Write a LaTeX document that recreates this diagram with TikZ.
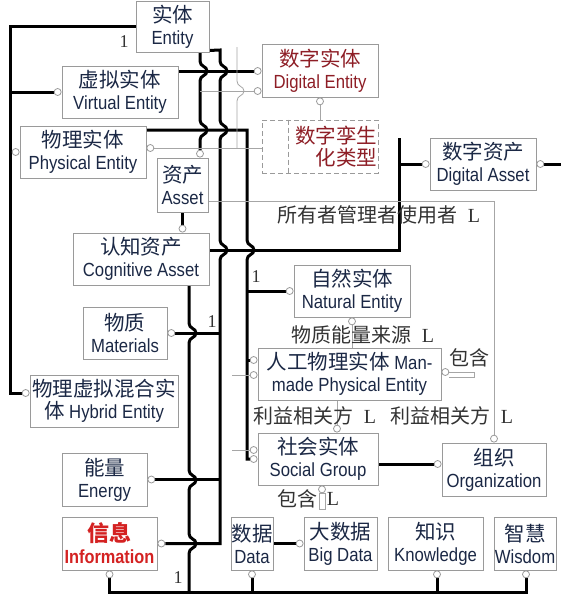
\documentclass[tikz,border=0pt]{standalone}
\usepackage{fontspec}
\setmainfont[FakeStretch=0.88]{Liberation Sans}
\newfontfamily\cjk{Noto Sans CJK SC}
\newfontfamily\serifL{Liberation Serif}
\newfontfamily\infofont[FakeStretch=0.86]{Liberation Sans}
\usetikzlibrary{positioning,calc}
\pgfdeclarelayer{paper}
\pgfdeclarelayer{wires}
\pgfsetlayers{paper,wires,main}
\definecolor{inkblue}{HTML}{1B2845}
\definecolor{boxgray}{HTML}{9A9A9A}
\definecolor{wiregray}{HTML}{A6A6A6}
\definecolor{digired}{HTML}{8E1E26}
\definecolor{infored}{HTML}{D42222}
\definecolor{labgray}{HTML}{333333}
\newcommand{\zh}[1]{{\cjk\fontsize{20.5}{22}\selectfont #1}}
\newcommand{\Lmk}{{\serifL L}}
\tikzset{
  ent/.style={draw=boxgray,line width=0.9pt,fill=white,inner sep=0pt,align=center,
    text=inkblue,font=\fontsize{19}{22}\selectfont},
  boxsize/.style 2 args={minimum width=#1pt,minimum height=#2pt},
  port/.style={circle,draw=boxgray,fill=white,line width=0.8pt,inner sep=0pt,minimum size=7pt},
  heavywire/.style={line width=3pt,black},
  thinwire/.style={line width=0.8pt,wiregray},
  lab/.style={text=labgray,inner sep=0pt,font=\cjk\fontsize{20}{22}\selectfont},
  numlab/.style={text=labgray,inner sep=0pt,font=\serifL\fontsize{18}{20}\selectfont},
  hop/.style 2 args={insert path={-- (#1,#2-10) .. controls (#1,#2-4) and (#1+7,#2-5) .. (#1+7,#2)
    .. controls (#1+7,#2+5) and (#1,#2+4) .. (#1,#2+10)}},
}

\begin{document}
\begin{tikzpicture}[x=1pt,y=-1pt]
  \begin{pgfonlayer}{paper}
    \fill[white] (0,0) rectangle (561,595);
  \end{pgfonlayer}
  \useasboundingbox (0,0) rectangle (561,595);

  % entity boxes
  \node[ent,boxsize={73}{51}] (entity) at (172.5,26.5) {\zh{实体}\\Entity};
  \node[ent,boxsize={116}{53},text=digired] (digent) at (320,70.5) {\zh{数字实体}\\Digital Entity};
  \node[ent,boxsize={116}{52}] (virtual) at (120,92) {\zh{虚拟实体}\\Virtual Entity};
  \node[ent,boxsize={126}{52}] (physical) at (83,152) {\zh{物理实体}\\Physical Entity};
  \node[draw=boxgray,dash pattern=on 5pt off 3pt,line width=0.9pt,inner xsep=1pt,inner ysep=0pt,
        text width=114pt,align=right,minimum height=53pt,text=digired,
        font=\fontsize{19}{22}\selectfont] (twin) at (320,146.5) {\zh{数字孪生}\\\zh{化类型}};
  \coordinate (twinsplit) at (288,0);
  \draw[boxgray,dash pattern=on 5pt off 3pt,line width=0.9pt] (twin.north -| twinsplit) -- (twin.south -| twinsplit);
  \node[ent,boxsize={51}{54}] (asset) at (182.5,185) {\zh{资产}\\Asset};
  \node[ent,boxsize={106}{52}] (digasset) at (483,164) {\zh{数字资产}\\Digital Asset};
  \node[ent,boxsize={136}{52}] (cognitive) at (141,259) {\zh{认知资产}\\Cognitive Asset};
  \node[ent,boxsize={116}{52}] (natural) at (352,291) {\zh{自然实体}\\Natural Entity};
  \node[ent,boxsize={84}{52}] (materials) at (125,333) {\zh{物质}\\Materials};
  \node[ent,boxsize={183}{52}] (manmade) at (349.5,374) {\zh{人工物理实体} Man-\\made Physical Entity};
  \node[ent,boxsize={148}{52}] (hybrid) at (104,401) {\zh{物理虚拟混合实}\\\zh{体} Hybrid Entity};
  \node[ent,boxsize={120}{52}] (social) at (318,459) {\zh{社会实体}\\Social Group};
  \node[ent,boxsize={104}{53}] (organization) at (494,469.5) {\zh{组织}\\Organization};
  \node[ent,boxsize={85}{53}] (energy) at (104.5,479.5) {\zh{能量}\\Energy};
  \node[ent,boxsize={95}{53},text=infored,font=\infofont\bfseries\fontsize{19}{22}\selectfont]
        (information) at (109.5,543.5) {{\cjk\fontsize{22}{22}\selectfont 信息}\\Information};
  \foreach \nm/\cx/\w/\zht/\ent in {data/252/42/数据/Data, bigdata/340.5/73/大数据/Big Data,
      knowledge/435.5/95/知识/Knowledge, wisdom/525/62/智慧/Wisdom}
    \node[ent,boxsize={\w}{53}] (\nm) at (\cx,543.5) {\zh{\zht}\\\ent};

  % ports
  \node[port,anchor=east] (p-vir-w) at (virtual.west) {};
  \node[port,anchor=east] (p-phy-w) at (physical.west) {};
  \node[port,anchor=west] (p-phy-e) at ([yshift=4pt]physical.east) {};
  \node[port,anchor=east] (p-hyb-w) at ([yshift=8pt]hybrid.west) {};
  \node[port,anchor=east] (p-de-w1) at ([yshift=-0.5pt]digent.west) {};
  \node[port,anchor=east] (p-de-w2) at ([yshift=-20.5pt]digent.west) {};
  \node[port,anchor=north] (p-de-s) at (digent.south) {};
  \node[port,anchor=south] (p-as-n) at ([xshift=17.5pt]asset.north) {};
  \node[port,anchor=south] (p-cog-n) at ([xshift=41.5pt]cognitive.north) {};
  \node[port,anchor=east] (p-da-w) at (digasset.west) {};
  \node[port,anchor=west] (p-da-e) at (digasset.east) {};
  \node[port,anchor=east] (p-nat-w) at (natural.west) {};
  \node[port,anchor=north] (p-nat-s) at (natural.south) {};
  \node[port,anchor=west] (p-mat-e) at (materials.east) {};
  \node[port,anchor=east] (p-mm-w1) at ([yshift=14pt]manmade.west) {};
  \node[port,anchor=east] (p-mm-w2) at ([yshift=-1pt]manmade.west) {};
  \node[port,anchor=west] (p-mm-e) at ([yshift=2pt]manmade.east) {};
  \node[port,anchor=east] (p-soc-w1) at ([yshift=9pt]social.west) {};
  \node[port,anchor=east] (p-soc-w2) at (social.west) {};
  \node[port,anchor=south] (p-soc-n) at ([xshift=19pt]social.north) {};
  \node[port,anchor=north] (p-soc-s) at ([xshift=4pt]social.south) {};
  \node[port,anchor=east] (p-org-w) at ([yshift=5.5pt]organization.west) {};
  \node[port,anchor=south] (p-org-n) at (organization.north) {};
  \node[port,anchor=west] (p-en-e) at (energy.east) {};
  \node[port,anchor=west] (p-inf-e) at (information.east) {};
  \node[port,anchor=north] (p-inf-s) at (information.south) {};
  \node[port,anchor=north] (p-dat-s) at (data.south) {};
  \node[port,anchor=east] (p-bd-w) at (bigdata.west) {};
  \node[port,anchor=north] (p-kn-s) at ([xshift=1.5pt]knowledge.south) {};
  \node[port,anchor=north] (p-wis-s) at ([xshift=1pt]wisdom.south) {};

  \coordinate (leftrail) at (10,27);
  \coordinate (spine) at (247,0);
  \coordinate (rail) at (220,0);
  \coordinate (assetrail) at (399,0);
  \coordinate (bus) at (0,592);
  \coordinate (stub) at (232,0);

  \begin{pgfonlayer}{wires}
    % thick links
    \draw[heavywire] (entity.west) -- (entity.west -| leftrail) |- (p-hyb-w);
    \draw[heavywire] (p-vir-w) -- (p-vir-w -| leftrail);
    \draw[heavywire] (p-phy-w) -- (p-phy-w -| leftrail);
    \draw[heavywire] ([yshift=2pt]entity.south east) -- (220,50) [hop={220}{71}] [hop={220}{130}]
      [hop={220}{250}] -- (p-inf-e -| rail) -- (p-inf-e);
    \draw[heavywire] (p-mat-e) -- (p-mat-e -| rail);
    \draw[heavywire] (p-en-e) -- (p-en-e -| rail);
    \draw[heavywire] ([xshift=27.5pt]entity.south) [hop={200}{71}] [hop={200}{130}] -- (p-as-n);
    \draw[heavywire] (asset.south -| p-cog-n) -- (p-cog-n);
    \draw[heavywire] ([xshift=48pt]cognitive.south) [hop={189}{333}] [hop={189}{480}]
      [hop={189}{543.5}] -- (189,592);
    \draw[heavywire] (p-inf-s) -- (p-inf-s |- bus) -- (p-wis-s |- bus) -- (p-wis-s);
    \draw[heavywire] (p-dat-s) -- (p-dat-s |- bus);
    \draw[heavywire] (p-kn-s) -- (p-kn-s |- bus);
    \draw[heavywire] (p-de-w1 -| virtual.east) -- (p-de-w1);
    \draw[heavywire] ([yshift=22pt]physical.east) -- (247,130) [hop={247}{250}] -- (p-soc-w2 -| spine) -- (p-soc-w2);
    \draw[heavywire] (p-nat-w) -- (p-nat-w -| spine);
    \draw[heavywire] (p-mm-w1) -- (p-mm-w1 -| spine);
    \draw[heavywire] ([yshift=9pt]cognitive.east) -- (399,250) -- (399,138);
    \draw[heavywire] (p-da-w) -- (p-da-w -| assetrail);
    \draw[heavywire] (p-da-e) -- (561,164);
    \draw[heavywire] (p-org-w -| social.east) -- (p-org-w);
    \draw[heavywire] (data.east) -- (p-bd-w);
    % thin links
    \draw[thinwire] (200,91) -- (p-de-w2);
    \draw[thinwire] (237,47) [hop={237}{91}] -- (237,148);
    \draw[thinwire] (p-phy-e) -- (p-phy-e -| twin.west);
    \draw[thinwire] (p-de-s) -- (twin.north);
    \draw[thinwire] ([yshift=-16pt]asset.east) -| (p-org-n);
    \draw[thinwire] (p-nat-s) -- (p-nat-s |- manmade.north);
    \draw[thinwire] (p-soc-n |- manmade.south) -- (p-soc-n);
    \draw[thinwire] (p-mm-w2 -| stub) -- (p-mm-w2);
    \draw[thinwire] (p-soc-w1 -| stub) -- (p-soc-w1);
    \draw[thinwire] (p-mm-e.east) -- ++(25,0) -- ++(0,5) -- ++(-25,0);
    \draw[thinwire] ([xshift=-3pt]p-soc-s.south) rectangle ++(6,16);
  \end{pgfonlayer}

  % multiplicities and roles
  \node[numlab] (n-ent) at (124,42) {1};
  \node[numlab] (n-nat) at (256,277) {1};
  \node[numlab] (n-mat) at (212,322) {1};
  \node[numlab] (n-bus) at (178,578) {1};
  \node[lab] (l-own) at (379,215) {所有者管理者使用者\hspace{0.5em}\Lmk};
  \node[lab] (l-src) at (363,335) {物质能量来源\hspace{0.5em}\Lmk};
  \node[lab] (l-inc1) at (469,358) {包含};
  \node[lab] (l-st1) at (315,416) {利益相关方\hspace{0.5em}\Lmk};
  \node[lab] (l-st2) at (452,416) {利益相关方\hspace{0.5em}\Lmk};
  \node[lab] (l-inc2) at (297,499) {包含};
  \node[lab] (l-inc2L) at (333,499) {\Lmk};
\end{tikzpicture}
\end{document}
